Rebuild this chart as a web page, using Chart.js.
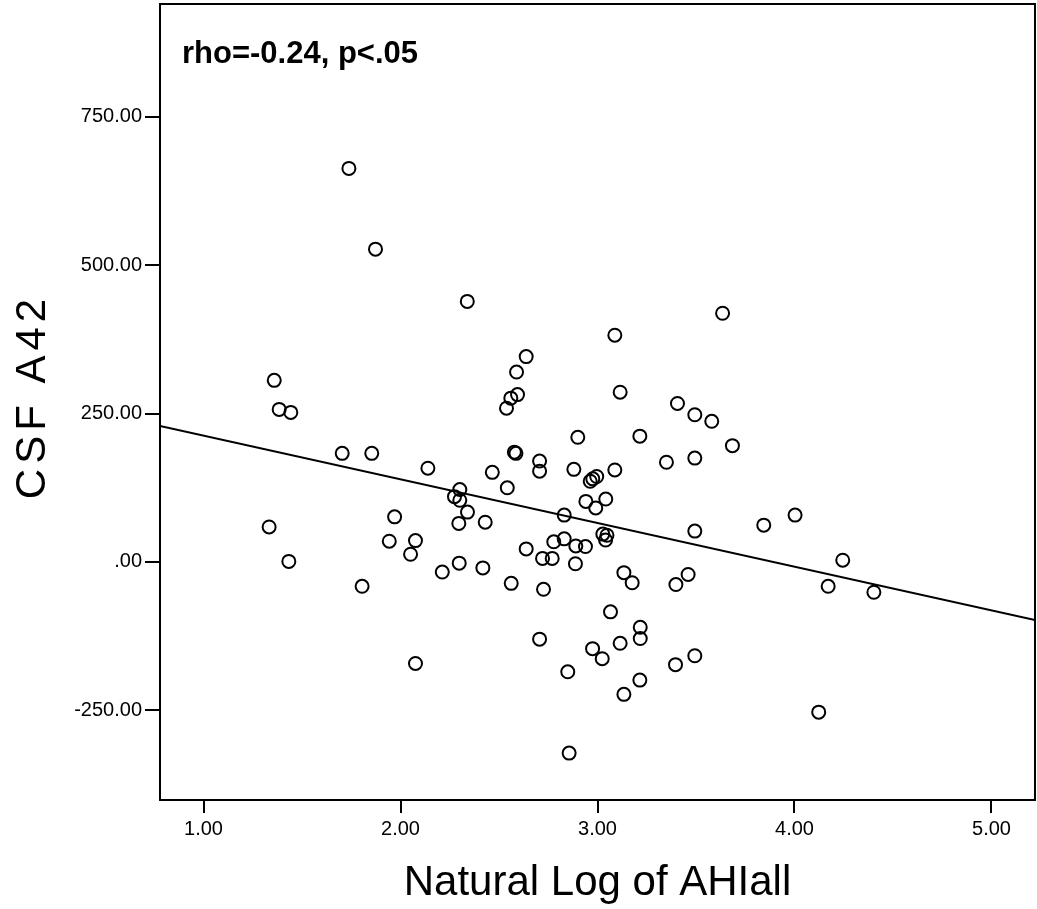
<!DOCTYPE html>
<html>
<head>
<meta charset="utf-8">
<script src="https://cdn.jsdelivr.net/npm/chart.js@4.4.1/dist/chart.umd.min.js"></script>
<style>
  html, body { margin: 0; padding: 0; background: #fff; }
  canvas { display: block; }
</style>
</head>
<body>
<canvas id="canvas" width="1037" height="909"></canvas>
<script>
// one entry per subject: natural log of AHIall (x) and CSF A42 (y)
const ahiLog = [1.738, 1.873, 2.339, 1.359, 1.384, 1.443, 1.704, 1.854, 3.635, 3.088,
                2.638, 2.589, 2.594, 2.560, 2.538, 3.115, 3.406, 3.494, 3.580, 2.900,
                3.215, 3.685, 2.578, 2.586, 2.706, 3.350, 3.494, 2.706, 2.466, 2.880,
                3.088, 2.996, 2.976, 2.963, 2.542, 2.941, 3.042, 2.991, 2.831, 3.494,
                2.430, 3.027, 3.048, 3.041, 2.778, 2.831, 2.890, 2.939, 2.638, 2.721,
                2.770, 2.888, 2.418, 3.134, 3.176, 3.460, 3.398, 2.562, 2.726, 3.066,
                3.217, 3.217, 2.706, 3.115, 2.975, 3.024, 3.494, 3.396, 2.849, 3.215,
                3.134, 2.856, 2.139, 2.301, 2.274, 2.301, 2.340, 1.970, 2.296, 1.333,
                1.943, 2.076, 2.051, 1.433, 2.298, 2.212, 1.805, 2.076, 3.844, 4.003,
                4.245, 4.171, 4.403, 4.123];
const csfA42 = [663, 527, 439, 306, 257, 252, 183, 183, 419, 382,
                346, 320, 282, 276, 259, 286, 267, 248, 237, 210,
                212, 196, 185, 183, 170, 168, 175, 153, 151, 156,
                155, 144, 140, 136, 125, 102, 106, 91, 79, 52,
                67, 47, 45, 37, 34, 39, 27, 26, 22, 6,
                6, -3, -10, -18, -35, -21, -38, -36, -46, -84,
                -110, -129, -130, -137, -146, -163, -158, -173, -185, -199,
                -223, -322, 158, 122, 110, 104, 84, 76, 65, 59,
                35, 36, 13, 1, -2, -17, -41, -171, 62, 79,
                3, -41, -51, -253];

// fit line, read at the two edges of the plot
const fitX = [0.779, 5.221];
const fitY = [229, -98];

const xRange = [0.779, 5.221];
const yRange = [-401, 940];
const xTicks = [1, 2, 3, 4, 5];
const yTicks = [-250, 0, 250, 500, 750];

const xTitle = 'Natural Log of AHIall';
const yTitle = 'CSF A42';
const statText = 'rho=-0.24, p<.05';

const FONT = "'Liberation Sans', Arial, sans-serif";
Chart.defaults.font.family = FONT;
Chart.defaults.color = '#000';

// SPSS style: 750.00, .00, -250.00
function fmt(v) {
    let s = Math.abs(v).toFixed(2);
    if (s.startsWith('0.')) s = s.slice(1);
    return (v < 0 ? '-' : '') + s;
}

const points = ahiLog.map((x, i) => ({x: x, y: csfA42[i]}));
const fit = fitX.map((x, i) => ({x: x, y: fitY[i]}));

const framePlugin = {
    id: 'frame',
    beforeDatasetsDraw(chart) {
        const {ctx, chartArea: a} = chart;
        ctx.save();
        ctx.strokeStyle = '#000';
        ctx.lineWidth = 2;
        ctx.strokeRect(a.left, a.top, a.right - a.left, a.bottom - a.top);
        ctx.restore();
    }
};

const textPlugin = {
    id: 'texts',
    afterDraw(chart) {
        const {ctx, chartArea: a} = chart;
        ctx.save();
        ctx.fillStyle = '#000';
        ctx.font = 'bold 31px ' + FONT;
        ctx.textBaseline = 'alphabetic';
        ctx.textAlign = 'left';
        ctx.fillText(statText, a.left + 22, a.top + 59);

        // rotated y title, letter spaced like the original
        ctx.font = '42px ' + FONT;
        ctx.letterSpacing = '5px';
        ctx.translate(45, (a.top + a.bottom) / 2 - 3);
        ctx.rotate(-Math.PI / 2);
        ctx.textAlign = 'center';
        ctx.fillText(yTitle, 2.5, 0);
        ctx.restore();
    }
};

const ctx = document.getElementById('canvas').getContext('2d');
const chart = new Chart(ctx, {
    type: 'scatter',
    data: {
        datasets: [{
            data: points,
            pointStyle: 'circle',
            pointRadius: 6.5,
            pointBorderWidth: 2,
            pointBackgroundColor: 'rgba(0,0,0,0)',
            pointBorderColor: '#000'
        }, {
            type: 'line',
            data: fit,
            borderColor: '#000',
            borderWidth: 2,
            pointRadius: 0,
            fill: false
        }]
    },
    options: {
        responsive: false,
        animation: false,
        devicePixelRatio: 1,
        layout: {autoPadding: false, padding: {top: 4, right: 2, left: 0, bottom: 0}},
        plugins: {
            legend: {display: false},
            tooltip: {enabled: false}
        },
        scales: {
            x: {
                type: 'linear',
                min: xRange[0],
                max: xRange[1],
                afterBuildTicks: s => { s.ticks = xTicks.map(v => ({value: v})); },
                afterFit: s => { s.height = 109; s.paddingLeft = 0; s.paddingRight = 0; },
                border: {display: false},
                grid: {drawOnChartArea: false, drawTicks: true, tickLength: 13, lineWidth: 2, color: '#000'},
                ticks: {font: {size: 20}, padding: 4, maxRotation: 0, autoSkip: false, callback: v => fmt(v)},
                title: {display: true, text: xTitle, font: {size: 42}, padding: {top: 0, bottom: 0}}
            },
            y: {
                type: 'linear',
                min: yRange[0],
                max: yRange[1],
                afterBuildTicks: s => { s.ticks = yTicks.map(v => ({value: v})); },
                afterFit: s => { s.width = 160; s.paddingTop = 0; s.paddingBottom = 0; },
                border: {display: false},
                grid: {drawOnChartArea: false, drawTicks: true, tickLength: 15, lineWidth: 2, color: '#000'},
                ticks: {font: {size: 20}, padding: 3, autoSkip: false, callback: v => fmt(v)}
            }
        }
    },
    plugins: [framePlugin, textPlugin]
});
</script>
</body>
</html>
